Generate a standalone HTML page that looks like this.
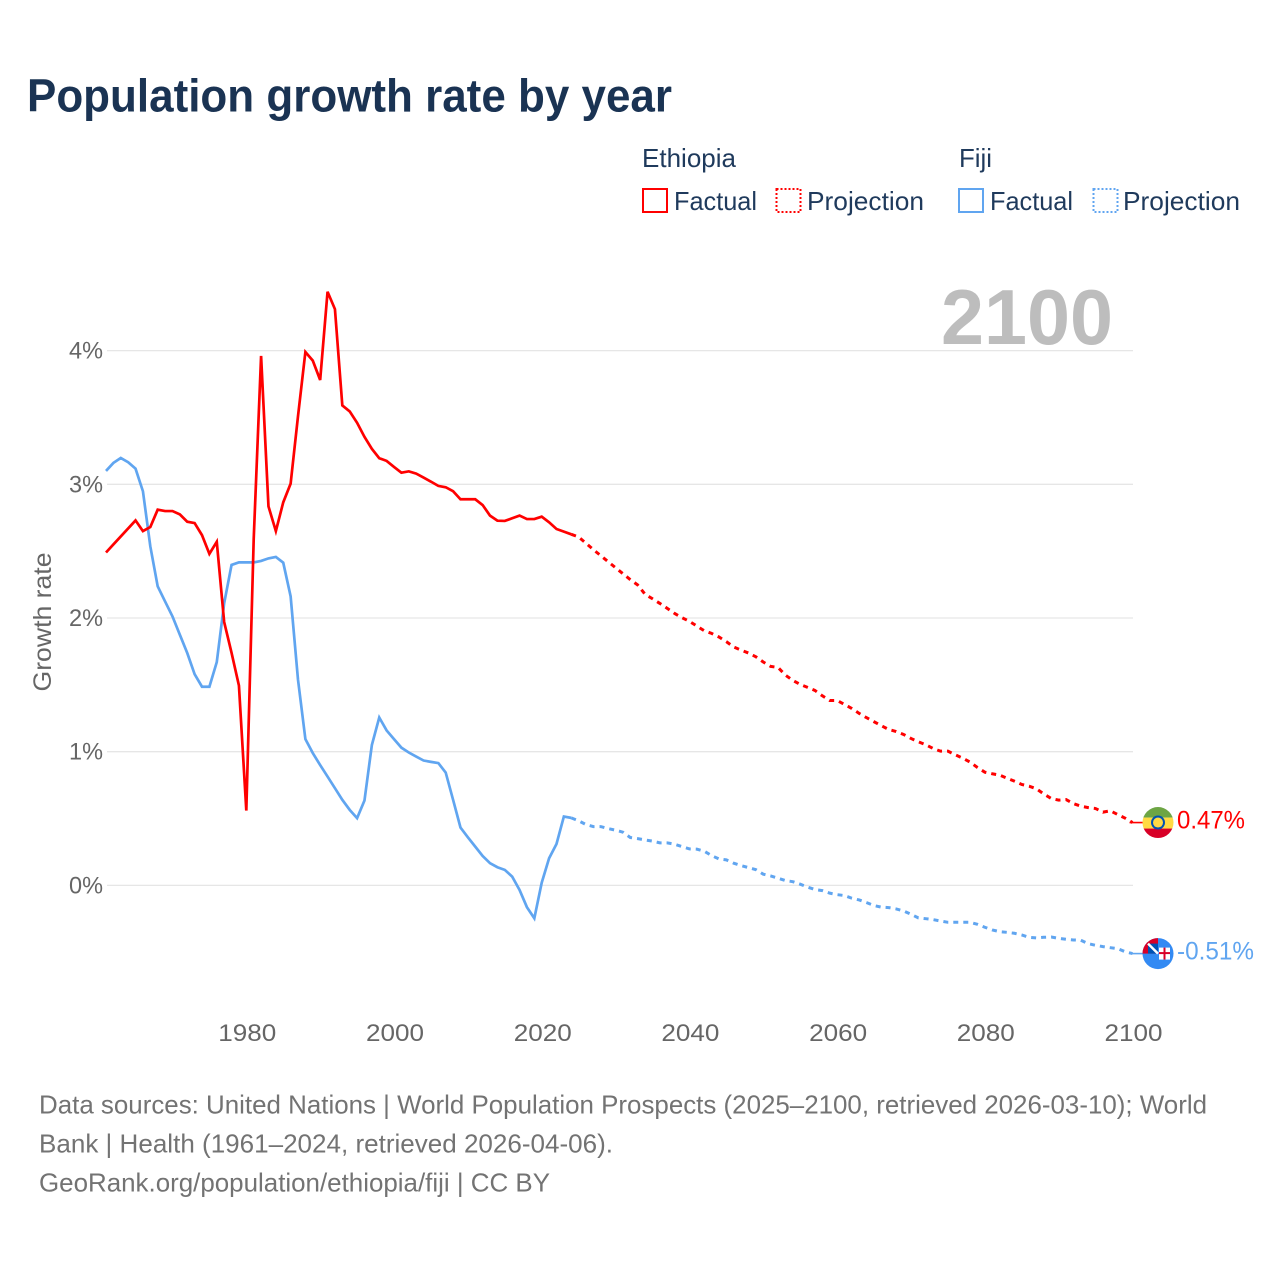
<!DOCTYPE html>
<html lang="en">
<head>
<meta charset="utf-8">
<title>Population growth rate by year</title>
<style>
html,body{margin:0;padding:0;background:#fff;width:1280px;height:1280px;overflow:hidden}
svg{display:block}
text{font-family:"Liberation Sans",sans-serif}
</style>
</head>
<body>
<svg id="chart" xmlns="http://www.w3.org/2000/svg" width="1280" height="1280" viewBox="0 0 1280 1280">
  <rect x="0" y="0" width="1280" height="1280" fill="#ffffff"/>
  <text x="27" y="111.5" font-size="46" font-weight="700" fill="#1a3353" textLength="645" lengthAdjust="spacingAndGlyphs">Population growth rate by year</text>

  <g font-size="26" fill="#1f3a5c">
    <text x="642" y="167" textLength="94" lengthAdjust="spacingAndGlyphs">Ethiopia</text>
    <text x="959" y="167" textLength="33" lengthAdjust="spacingAndGlyphs">Fiji</text>
    <rect x="643" y="189" width="24" height="23" fill="none" stroke="#ff0000" stroke-width="2"/>
    <text x="674" y="210" textLength="83" lengthAdjust="spacingAndGlyphs">Factual</text>
    <rect x="776.5" y="189" width="24" height="23" fill="none" stroke="#ff0000" stroke-width="2" stroke-dasharray="2 2"/>
    <text x="807" y="210" textLength="117" lengthAdjust="spacingAndGlyphs">Projection</text>
    <rect x="959" y="189" width="24" height="23" fill="none" stroke="#60a5f0" stroke-width="2"/>
    <text x="990" y="210" textLength="83" lengthAdjust="spacingAndGlyphs">Factual</text>
    <rect x="1093.5" y="189" width="24" height="23" fill="none" stroke="#60a5f0" stroke-width="2" stroke-dasharray="2 2"/>
    <text x="1123" y="210" textLength="117" lengthAdjust="spacingAndGlyphs">Projection</text>
  </g>

  <g id="grid"></g>
  <text x="941" y="344" font-size="78" font-weight="700" fill="#bdbdbd" textLength="172" lengthAdjust="spacingAndGlyphs">2100</text>
  <g id="yticks" font-size="24" fill="#666666"></g>
  <g id="xticks" font-size="24" fill="#666666"></g>
  <text transform="translate(51,622) rotate(-90)" text-anchor="middle" font-size="25" fill="#666666" textLength="139" lengthAdjust="spacingAndGlyphs">Growth rate</text>

  <g id="series"></g>

  <defs>
    <clipPath id="flag-clip"><circle cx="0" cy="0" r="15.5"/></clipPath>
  </defs>

  <g id="flag-ethiopia">
    <g clip-path="url(#flag-clip)">
      <rect x="-16" y="-16" width="32" height="11" fill="#6da544"/>
      <rect x="-16" y="-5" width="32" height="11" fill="#ffda44"/>
      <rect x="-16" y="6" width="32" height="10" fill="#d80027"/>
      <circle cx="0" cy="0" r="7" fill="#0052b4"/>
      <circle cx="0" cy="0" r="5" fill="#ffda44"/>
    </g>
  </g>
  <g id="flag-fiji">
    <g clip-path="url(#flag-clip)">
      <rect x="-16" y="-16" width="32" height="32" fill="#338af3"/>
      <rect x="-16" y="-16" width="16" height="16" fill="#d80027"/>
      <rect x="-10" y="-10" width="10" height="10" fill="#0052b4"/>
      <path d="M-10,-10 L0,0" stroke="#ffffff" stroke-width="2.5"/>
      <rect x="1" y="-6" width="11" height="12" fill="#ffffff"/>
      <rect x="5.5" y="-6" width="2" height="12" fill="#d80027"/>
      <rect x="1" y="-1.5" width="11" height="2" fill="#d80027"/>
    </g>
  </g>
  <text id="label-ethiopia" x="1177" font-size="25" fill="#ff0000" textLength="68" lengthAdjust="spacingAndGlyphs"></text>
  <text id="label-fiji" x="1177" font-size="25" fill="#60a5f0" textLength="77" lengthAdjust="spacingAndGlyphs"></text>

  <g font-size="26" fill="#737373">
    <text x="39" y="1113.5" textLength="1168" lengthAdjust="spacingAndGlyphs">Data sources: United Nations | World Population Prospects (2025–2100, retrieved 2026-03-10); World</text>
    <text x="39" y="1152.5" textLength="574" lengthAdjust="spacingAndGlyphs">Bank | Health (1961–2024, retrieved 2026-04-06).</text>
    <text x="39" y="1191.5" textLength="511" lengthAdjust="spacingAndGlyphs">GeoRank.org/population/ethiopia/fiji | CC BY</text>
  </g>
</svg>

<script>
const firstFactualYear = 1961;
const xTickYears = [1980, 2000, 2020, 2040, 2060, 2080, 2100];
const yTickValues = [0, 1, 2, 3, 4];
const yTickLabels = ["0%", "1%", "2%", "3%", "4%"];

const ethiopiaFactual = [
  2.49,2.55,2.61,2.67,2.73,2.65,2.68,2.81,2.80,2.80,
  2.775,2.72,2.71,2.62,2.48,2.57,1.97,1.74,1.495,0.56,
  2.59,3.96,2.835,2.65,2.865,3.005,3.51,3.99,3.925,3.78,
  4.44,4.31,3.59,3.545,3.46,3.355,3.265,3.195,3.175,3.13,
  3.087,3.097,3.08,3.05,3.02,2.988,2.978,2.948,2.888,2.888,
  2.888,2.845,2.766,2.728,2.726,2.746,2.766,2.74,2.74,2.758,
  2.716,2.666,2.646,2.626
];
const ethiopiaProjection = [
  2.606,2.559,2.511,2.466,2.421,2.376,2.331,2.287,2.247,2.177,
  2.144,2.109,2.072,2.034,2.002,1.975,1.94,1.905,1.885,1.858,
  1.823,1.783,1.76,1.738,1.71,1.671,1.638,1.63,1.573,1.533,
  1.503,1.481,1.458,1.418,1.383,1.383,1.353,1.323,1.286,1.254,
  1.224,1.194,1.166,1.151,1.129,1.099,1.074,1.052,1.024,1.004,
  1.004,0.977,0.952,0.922,0.882,0.847,0.835,0.825,0.802,0.78,
  0.755,0.742,0.722,0.683,0.65,0.638,0.642,0.612,0.593,0.582,
  0.575,0.548,0.558,0.53,0.503,0.47
];
const fijiFactual = [
  3.10,3.16,3.197,3.165,3.117,2.948,2.536,2.237,2.124,2.012,
  1.875,1.738,1.58,1.486,1.486,1.67,2.11,2.397,2.416,2.416,
  2.416,2.427,2.446,2.457,2.414,2.162,1.538,1.094,0.99,0.90,
  0.814,0.727,0.64,0.565,0.503,0.635,1.05,1.256,1.159,1.094,
  1.03,0.994,0.964,0.934,0.924,0.915,0.844,0.64,0.433,0.36,
  0.29,0.22,0.166,0.136,0.116,0.066,-0.034,-0.163,-0.246,0.02,
  0.203,0.31,0.515,0.505
];
const fijiProjection = [
  0.483,0.455,0.44,0.44,0.425,0.413,0.398,0.358,0.35,0.34,
  0.331,0.318,0.318,0.308,0.29,0.273,0.271,0.256,0.223,0.198,
  0.191,0.166,0.148,0.133,0.118,0.084,0.071,0.054,0.036,0.028,
  0.009,-0.013,-0.031,-0.039,-0.058,-0.069,-0.076,-0.096,-0.109,-0.129,
  -0.151,-0.163,-0.166,-0.176,-0.191,-0.216,-0.243,-0.249,-0.256,-0.266,
  -0.276,-0.276,-0.276,-0.276,-0.291,-0.313,-0.333,-0.346,-0.351,-0.358,
  -0.371,-0.388,-0.393,-0.388,-0.386,-0.396,-0.403,-0.408,-0.41,-0.436,
  -0.448,-0.458,-0.466,-0.473,-0.496,-0.51
];
const endLabels = ["0.47%", "-0.51%"];

const SVG_NS = "http://www.w3.org/2000/svg";
function xScale(year) { return 106 + (year - 1961) * 7.385; }
function yScale(value) { return 885.4 - value * 133.7; }

const gridGroup = document.getElementById("grid");
const yTickGroup = document.getElementById("yticks");
const xTickGroup = document.getElementById("xticks");
const seriesGroup = document.getElementById("series");

yTickValues.forEach(function (value, i) {
  const line = document.createElementNS(SVG_NS, "line");
  line.setAttribute("x1", 107);
  line.setAttribute("x2", 1133);
  line.setAttribute("y1", yScale(value));
  line.setAttribute("y2", yScale(value));
  line.setAttribute("stroke", "#e6e6e6");
  line.setAttribute("stroke-width", "1.3");
  
  
  gridGroup.appendChild(line);

  const label = document.createElementNS(SVG_NS, "text");
  label.setAttribute("x", 103);
  label.setAttribute("y", yScale(value) + 8);
  label.setAttribute("text-anchor", "end");
  label.setAttribute("textLength", "34");
  label.setAttribute("lengthAdjust", "spacingAndGlyphs");
  label.textContent = yTickLabels[i];
  
  
  yTickGroup.appendChild(label);
});

xTickYears.forEach(function (year) {
  const label = document.createElementNS(SVG_NS, "text");
  label.setAttribute("x", xScale(year) + 1);
  label.setAttribute("y", 1041);
  label.setAttribute("text-anchor", "middle");
  label.setAttribute("textLength", "58");
  label.setAttribute("lengthAdjust", "spacingAndGlyphs");
  label.textContent = String(year);
  
  
  xTickGroup.appendChild(label);
});

function pointsFrom(values, startYear) {
  return values.map(function (value, i) {
    return xScale(startYear + i).toFixed(2) + "," + yScale(value).toFixed(2);
  });
}

function drawSeries(factual, projection, color, key) {
  const factualPoints = pointsFrom(factual, firstFactualYear);
  const lastFactualYear = firstFactualYear + factual.length - 1;
  const projectionPoints = [factualPoints[factualPoints.length - 1]].concat(pointsFrom(projection, lastFactualYear + 1));

  const solid = document.createElementNS(SVG_NS, "polyline");
  solid.setAttribute("points", factualPoints.join(" "));
  solid.setAttribute("fill", "none");
  solid.setAttribute("stroke", color);
  solid.setAttribute("stroke-width", "2.7");
  solid.setAttribute("stroke-linejoin", "miter");
  
  
  seriesGroup.appendChild(solid);

  const dashed = document.createElementNS(SVG_NS, "polyline");
  dashed.setAttribute("points", projectionPoints.join(" "));
  dashed.setAttribute("fill", "none");
  dashed.setAttribute("stroke", color);
  dashed.setAttribute("stroke-width", "3");
  dashed.setAttribute("stroke-dasharray", "5 5");
  
  
  seriesGroup.appendChild(dashed);

  const lastYear = lastFactualYear + projection.length;
  const lastValue = projection[projection.length - 1];
  const connector = document.createElementNS(SVG_NS, "line");
  connector.setAttribute("x1", xScale(lastYear) - 3);
  connector.setAttribute("x2", 1143);
  connector.setAttribute("y1", yScale(lastValue));
  connector.setAttribute("y2", yScale(lastValue));
  connector.setAttribute("stroke", color);
  connector.setAttribute("stroke-width", "1.6");
  
  
  seriesGroup.appendChild(connector);

  document.getElementById("flag-" + key).setAttribute("transform", "translate(1158," + yScale(lastValue).toFixed(2) + ")");
  const endLabel = document.getElementById("label-" + key);
  endLabel.setAttribute("y", (yScale(lastValue) + 6).toFixed(2));
}

drawSeries(fijiFactual, fijiProjection, "#60a5f0", "fiji");
drawSeries(ethiopiaFactual, ethiopiaProjection, "#ff0000", "ethiopia");
document.getElementById("label-ethiopia").textContent = endLabels[0];
document.getElementById("label-fiji").textContent = endLabels[1];
</script>
</body>
</html>
